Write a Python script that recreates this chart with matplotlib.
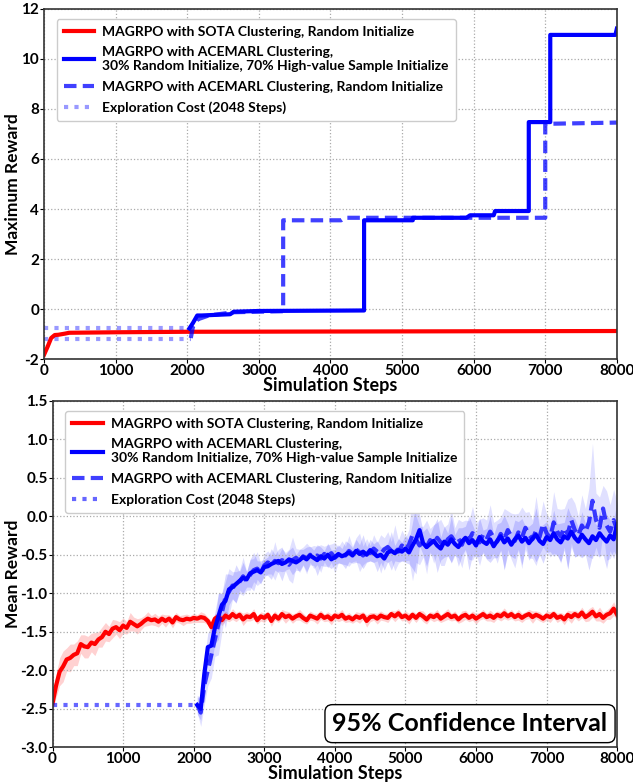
import numpy as np
import matplotlib
matplotlib.use('Agg')
import matplotlib.pyplot as plt

plt.rcParams['font.family'] = ['Lato', 'DejaVu Sans']
plt.rcParams['font.weight'] = 'bold'
plt.rcParams['axes.unicode_minus'] = False

labels = ['MAGRPO with SOTA Clustering, Random Initialize',
          'MAGRPO with ACEMARL Clustering,\n30% Random Initialize, 70% High-value Sample Initialize',
          'MAGRPO with ACEMARL Clustering, Random Initialize',
          'Exploration Cost (2048 Steps)']
explore_end = 2048

# ---- top: maximum reward ----
max_red_x = [0, 50, 100, 150, 200, 300, 350, 1000, 2000, 4000, 8000]
max_red_y = [-1.82, -1.5, -1.15, -1.03, -1.02, -0.97, -0.94, -0.92, -0.9, -0.89, -0.87]

max_solid_x = [2030, 2080, 2140, 2200, 2600, 2650, 3000, 4470, 4470, 5150, 5150, 5900, 5950,
               6280, 6300, 6770, 6770, 7070, 7070, 7980, 8000]
max_solid_y = [-0.77, -0.55, -0.25, -0.25, -0.2, -0.1, -0.07, -0.05, 3.55, 3.55, 3.65, 3.65, 3.75,
               3.75, 3.92, 3.92, 7.47, 7.47, 10.95, 10.95, 11.2]

max_dash_x = [2050, 2080, 2150, 2300, 2650, 3000, 3340, 3340, 4150, 4200, 7000, 7000, 8000]
max_dash_y = [-1.15, -0.7, -0.4, -0.25, -0.12, -0.1, -0.08, 3.55, 3.55, 3.65, 3.65, 7.4, 7.45]

max_explore = [-0.75, -1.18]

# ---- bottom: mean reward (red every 50 steps from 0, blue every 50 steps from 2050) ----
mean_red = [
    -2.43, -2.20, -2.02, -1.95, -1.86, -1.84, -1.80, -1.78, -1.66, -1.69,
    -1.70, -1.64, -1.66, -1.60, -1.57, -1.50, -1.53, -1.46, -1.44, -1.48,
    -1.42, -1.45, -1.37, -1.40, -1.43, -1.40, -1.36, -1.33, -1.35, -1.34,
    -1.37, -1.33, -1.36, -1.33, -1.38, -1.31, -1.34, -1.35, -1.33, -1.34,
    -1.32, -1.33, -1.31, -1.32, -1.36, -1.44, -1.33, -1.30, -1.35, -1.29,
    -1.32, -1.27, -1.31, -1.28, -1.34, -1.30, -1.31, -1.27, -1.35, -1.30,
    -1.32, -1.28, -1.36, -1.29, -1.33, -1.27, -1.31, -1.29, -1.33, -1.30,
    -1.28, -1.32, -1.35, -1.29, -1.31, -1.33, -1.28, -1.32, -1.30, -1.34,
    -1.29, -1.31, -1.28, -1.33, -1.31, -1.34, -1.30, -1.32, -1.29, -1.36,
    -1.31, -1.30, -1.33, -1.29, -1.31, -1.32, -1.27, -1.30, -1.26, -1.31,
    -1.29, -1.33, -1.28, -1.32, -1.27, -1.30, -1.34, -1.29, -1.31, -1.28,
    -1.33, -1.30, -1.27, -1.31, -1.29, -1.34, -1.30, -1.28, -1.32, -1.29,
    -1.33, -1.30, -1.27, -1.31, -1.29, -1.32, -1.28, -1.30, -1.26, -1.30,
    -1.27, -1.31, -1.28, -1.32, -1.29, -1.27, -1.31, -1.28, -1.30, -1.33,
    -1.29, -1.31, -1.27, -1.32, -1.30, -1.34, -1.28, -1.31, -1.27, -1.30,
    -1.25, -1.31, -1.28, -1.24, -1.30, -1.27, -1.32, -1.28, -1.26, -1.20,
    -1.28]
ci_red = [
    0.10, 0.15, 0.18, 0.20, 0.15, 0.18, 0.14, 0.16, 0.12, 0.15,
    0.14, 0.12, 0.15, 0.10, 0.13, 0.12, 0.10, 0.12, 0.09, 0.11,
    0.10, 0.08, 0.12, 0.09, 0.10, 0.08, 0.07, 0.09, 0.06, 0.08,
    0.07, 0.06, 0.08, 0.05, 0.07, 0.06, 0.05, 0.07, 0.06, 0.05,
    0.06, 0.05, 0.07, 0.06, 0.05, 0.08, 0.06, 0.05, 0.07, 0.06,
    0.05, 0.07, 0.06, 0.05, 0.08, 0.06, 0.05, 0.07, 0.05, 0.06,
    0.06, 0.05, 0.07, 0.06, 0.05, 0.06, 0.08, 0.05, 0.06, 0.05,
    0.07, 0.06, 0.05, 0.06, 0.05, 0.07, 0.06, 0.05, 0.06, 0.07,
    0.05, 0.06, 0.07, 0.05, 0.06, 0.05, 0.06, 0.07, 0.05, 0.08,
    0.06, 0.05, 0.07, 0.06, 0.05, 0.06, 0.05, 0.07, 0.06, 0.05,
    0.06, 0.07, 0.05, 0.06, 0.05, 0.07, 0.06, 0.05, 0.06, 0.07,
    0.05, 0.06, 0.07, 0.05, 0.06, 0.05, 0.07, 0.06, 0.05, 0.06,
    0.07, 0.05, 0.06, 0.05, 0.07, 0.06, 0.05, 0.06, 0.07, 0.05,
    0.06, 0.05, 0.07, 0.06, 0.05, 0.06, 0.08, 0.05, 0.06, 0.05,
    0.06, 0.07, 0.05, 0.06, 0.05, 0.07, 0.06, 0.08, 0.05, 0.06,
    0.07, 0.06, 0.08, 0.07, 0.06, 0.09, 0.07, 0.06, 0.08, 0.09,
    0.07]

mean_solid = [
    -2.45, -2.50, -2.05, -1.70, -1.68, -1.45, -1.30, -1.15, -1.10, -0.95,
    -0.92, -0.88, -0.84, -0.80, -0.82, -0.74, -0.72, -0.70, -0.73, -0.66,
    -0.65, -0.62, -0.60, -0.58, -0.62, -0.60, -0.56, -0.58, -0.60, -0.57,
    -0.53, -0.56, -0.51, -0.54, -0.57, -0.52, -0.55, -0.50, -0.56, -0.53,
    -0.49, -0.52, -0.50, -0.47, -0.51, -0.45, -0.49, -0.46, -0.50, -0.44,
    -0.48, -0.52, -0.50, -0.55, -0.47, -0.45, -0.48, -0.44, -0.46, -0.42,
    -0.47, -0.38, -0.30, -0.18, -0.35, -0.40, -0.36, -0.32, -0.38, -0.42,
    -0.33, -0.37, -0.30, -0.36, -0.40, -0.33, -0.28, -0.35, -0.31, -0.38,
    -0.27, -0.33, -0.36, -0.30, -0.39, -0.32, -0.26, -0.34, -0.29, -0.37,
    -0.30, -0.25, -0.33, -0.28, -0.35, -0.29, -0.24, -0.32, -0.36, -0.27,
    -0.31, -0.22, -0.30, -0.34, -0.26, -0.29, -0.20, -0.28, -0.33, -0.24,
    -0.30, -0.35, -0.26, -0.31, -0.22, -0.28, -0.33, -0.25, -0.30, -0.10]
ci_solid = [
    0.12, 0.15, 0.20, 0.18, 0.25, 0.20, 0.30, 0.15, 0.35, 0.20,
    0.15, 0.25, 0.12, 0.20, 0.10, 0.18, 0.25, 0.12, 0.15, 0.10,
    0.12, 0.20, 0.10, 0.15, 0.22, 0.10, 0.12, 0.18, 0.10, 0.14,
    0.10, 0.16, 0.12, 0.10, 0.20, 0.12, 0.10, 0.15, 0.12, 0.10,
    0.12, 0.10, 0.18, 0.12, 0.10, 0.15, 0.12, 0.22, 0.10, 0.14,
    0.12, 0.20, 0.10, 0.15, 0.12, 0.25, 0.10, 0.15, 0.12, 0.18,
    0.15, 0.30, 0.45, 0.20, 0.15, 0.25, 0.12, 0.20, 0.35, 0.15,
    0.20, 0.15, 0.30, 0.12, 0.25, 0.18, 0.15, 0.35, 0.20, 0.15,
    0.25, 0.15, 0.20, 0.30, 0.15, 0.22, 0.18, 0.35, 0.20, 0.15,
    0.25, 0.18, 0.30, 0.15, 0.22, 0.20, 0.35, 0.18, 0.25, 0.20,
    0.15, 0.30, 0.20, 0.25, 0.18, 0.40, 0.20, 0.25, 0.18, 0.30,
    0.20, 0.35, 0.25, 0.20, 0.30, 0.22, 0.35, 0.20, 0.25, 0.30]

mean_dash = [
    -2.45, -2.55, -2.20, -2.00, -1.80, -1.60, -1.40, -1.25, -1.05, -0.98,
    -0.90, -0.92, -0.85, -0.78, -0.84, -0.76, -0.70, -0.68, -0.74, -0.64,
    -0.60, -0.63, -0.58, -0.61, -0.57, -0.59, -0.63, -0.57, -0.54, -0.58,
    -0.52, -0.55, -0.50, -0.53, -0.51, -0.55, -0.49, -0.52, -0.48, -0.54,
    -0.50, -0.47, -0.51, -0.45, -0.49, -0.43, -0.47, -0.51, -0.44, -0.48,
    -0.42, -0.46, -0.49, -0.43, -0.40, -0.45, -0.41, -0.46, -0.38, -0.43,
    -0.37, -0.24, -0.30, -0.38, -0.33, -0.40, -0.31, -0.36, -0.28, -0.34,
    -0.39, -0.30, -0.26, -0.33, -0.29, -0.37, -0.25, -0.31, -0.22, -0.29,
    -0.34, -0.24, -0.30, -0.20, -0.28, -0.33, -0.23, -0.30, -0.18, -0.26,
    -0.32, -0.21, -0.28, -0.15, -0.24, -0.30, -0.19, -0.27, -0.10, -0.22,
    -0.28, -0.08, -0.20, -0.26, -0.15, -0.23, -0.05, -0.18, -0.25, -0.12,
    -0.20, -0.08, 0.20, -0.05, -0.15, 0.10, -0.12, -0.20, -0.05, -0.18]
ci_dash = [
    0.10, 0.18, 0.25, 0.20, 0.30, 0.22, 0.40, 0.25, 0.20, 0.30,
    0.18, 0.20, 0.15, 0.25, 0.12, 0.20, 0.15, 0.22, 0.12, 0.15,
    0.15, 0.12, 0.25, 0.10, 0.15, 0.12, 0.20, 0.30, 0.12, 0.15,
    0.12, 0.20, 0.10, 0.15, 0.12, 0.18, 0.10, 0.15, 0.12, 0.20,
    0.10, 0.15, 0.12, 0.20, 0.10, 0.15, 0.25, 0.12, 0.15, 0.10,
    0.18, 0.12, 0.25, 0.15, 0.20, 0.12, 0.30, 0.15, 0.20, 0.15,
    0.20, 0.60, 0.30, 0.25, 0.20, 0.35, 0.15, 0.25, 0.20, 0.30,
    0.25, 0.20, 0.35, 0.18, 0.25, 0.30, 0.20, 0.25, 0.35, 0.20,
    0.30, 0.22, 0.25, 0.35, 0.20, 0.28, 0.22, 0.40, 0.25, 0.30,
    0.35, 0.25, 0.40, 0.20, 0.30, 0.25, 0.45, 0.22, 0.30, 0.25,
    0.25, 0.40, 0.30, 0.35, 0.25, 0.45, 0.30, 0.35, 0.25, 0.40,
    0.30, 0.45, 0.75, 0.35, 0.40, 0.30, 0.45, 0.35, 0.40, 0.35]

mean_explore = -2.45

fig = plt.figure(figsize=(6.33, 7.82), dpi=100)
ax1 = fig.add_axes([0.0695, 0.5405, 0.905, 0.4485])
ax2 = fig.add_axes([0.083, 0.0444, 0.892, 0.4432])

lw = 3
ax1.plot(max_red_x, max_red_y, color='#ff0000', lw=lw, label=labels[0])
ax1.plot(max_solid_x, max_solid_y, color='#0000ff', lw=lw, label=labels[1])
ax1.plot(max_dash_x, max_dash_y, color='#0000ff', alpha=0.75, lw=lw, ls=(0, (3, 1.5)), label=labels[2])
for k, yv in enumerate(max_explore):
    ax1.plot([0, explore_end], [yv, yv], color='#0000ff', alpha=0.4, lw=lw, ls=(0, (1, 1.5)),
             label=labels[3] if k == 0 else None)
ax1.set_xlim(0, 8000)
ax1.set_ylim(-2, 12)
ax1.set_yticks(range(-2, 13, 2))
ax1.set_ylabel('Maximum Reward', fontsize=12.5, fontweight='bold')
ax1.yaxis.set_label_coords(-0.040, 0.5)

xr = np.arange(len(mean_red)) * 50
xb = 2050 + np.arange(len(mean_solid)) * 50
mr, cr = np.array(mean_red), np.array(ci_red)
ms, cs = np.array(mean_solid), np.array(ci_solid)
md, cd = np.array(mean_dash), np.array(ci_dash)
ax2.fill_between(xr, mr - cr, mr + cr, color='#ff0000', alpha=0.18, lw=0)
ax2.fill_between(xb, ms - cs, ms + cs, color='#0000ff', alpha=0.15, lw=0)
ax2.fill_between(xb, md - cd, md + cd, color='#0000ff', alpha=0.12, lw=0)
ax2.plot(xr, mr, color='#ff0000', lw=lw, label=labels[0])
ax2.plot(xb, ms, color='#0000ff', lw=lw, label=labels[1])
ax2.plot(xb, md, color='#0000ff', alpha=0.75, lw=lw, ls=(0, (3, 1.5)), label=labels[2])
ax2.plot([0, explore_end], [mean_explore, mean_explore], color='#0000ff', alpha=0.6, lw=lw,
         ls=(0, (1, 1.5)), label=labels[3])
ax2.set_xlim(0, 8000)
ax2.set_ylim(-3, 1.5)
ax2.set_yticks(np.arange(-3, 1.51, 0.5))
ax2.set_ylabel('Mean Reward', fontsize=12.5, fontweight='bold')
ax2.yaxis.set_label_coords(-0.056, 0.5)
ax2.text(0.983, 0.035, '95% Confidence Interval', transform=ax2.transAxes, ha='right', va='bottom',
         fontsize=18, fontweight='bold',
         bbox=dict(boxstyle='round,pad=0.3', fc='white', ec='black', lw=1))

for ax in (ax1, ax2):
    ax.set_xticks(range(0, 8001, 1000))
    ax.set_xlabel('Simulation Steps', fontsize=13, fontweight='bold', labelpad=-1)
    ax.grid(True, ls=':', color='#aaaaaa', lw=0.9)
    ax.tick_params(labelsize=11, length=3, pad=0.5)
    for lab in ax.get_xticklabels() + ax.get_yticklabels():
        lab.set_fontweight('bold')
    for s in ax.spines.values():
        s.set_linewidth(1.2)
        s.set_color('#333333')
    leg = ax.legend(loc='upper left', fontsize=10, handlelength=2.2, handletextpad=0.6,
                    borderpad=0.5, labelspacing=0.6, bbox_to_anchor=(0.01, 0.99), framealpha=1,
                    edgecolor='#cccccc', fancybox=True)
    for t in leg.get_texts():
        t.set_fontweight('bold')

fig.savefig('out.png', dpi=100)
